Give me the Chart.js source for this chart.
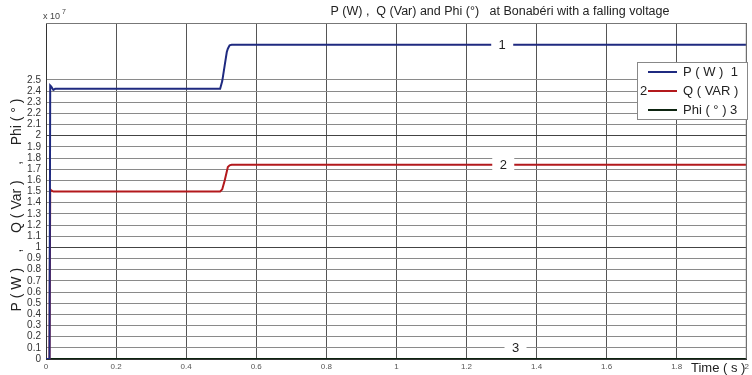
<!DOCTYPE html>
<html>
<head>
<meta charset="utf-8">
<script src="https://cdn.jsdelivr.net/npm/chart.js@4"></script>
<style>
  html, body { margin: 0; padding: 0; background: #fff; }
  #wrap { width: 752px; height: 375px; }
</style>
</head>
<body>
<div id="wrap"><canvas id="chart" width="752" height="375"></canvas></div>
<script>
// values in units of 10^7 (as on the axis)
const timeS = [0, 0.010, 0.012, 0.015, 0.021, 0.026, 0.497, 0.503, 0.510, 0.516, 0.519, 0.524, 0.530, 1.0, 1.5, 2.0];
const pValues = [0, 0, 2.45, 2.44, 2.41, 2.42, 2.42, 2.49, 2.63, 2.75, 2.78, 2.81, 2.815, 2.815, 2.815, 2.815];
const qValues = [0, 0, 1.52, 1.51, 1.50, 1.50, 1.50, 1.52, 1.60, 1.68, 1.72, 1.735, 1.74, 1.74, 1.74, 1.74];
const phiValues = [0, 0, 0, 0, 0, 0, 0, 0, 0, 0, 0, 0, 0, 0, 0, 0];

const seriesNames = ['P ( W )  1', 'Q ( VAR )', 'Phi ( ° ) 3'];
const seriesColors = ['#1f2a80', '#b3191c', '#0d2410'];
// curve markers: [label, time, value]
const curveMarks = [['1', 1.302, 2.815], ['2', 1.305, 1.74], ['3', 1.34, 0.1]];

const yTickMax = 2.5;
const fontFamily = '"Liberation Sans", Arial, sans-serif';

const toPoints = vals => timeS.map((t, i) => ({ x: t, y: vals[i] }));

const decorPlugin = {
    id: 'decor',
    afterDatasetsDraw(chart) {
        const { ctx, chartArea: a, scales } = chart;
        ctx.save();
        // frame top / right
        ctx.strokeStyle = '#777';
        ctx.lineWidth = 1;
        ctx.beginPath();
        ctx.moveTo(a.left, a.top + 0.5);
        ctx.lineTo(a.right - 0.5, a.top + 0.5);
        ctx.lineTo(a.right - 0.5, a.bottom);
        ctx.stroke();

        // curve number markers
        ctx.font = '13px ' + fontFamily;
        ctx.textAlign = 'center';
        ctx.textBaseline = 'middle';
        curveMarks.forEach(([lbl, t, v]) => {
            const x = scales.x.getPixelForValue(t);
            const y = scales.y.getPixelForValue(v);
            ctx.fillStyle = '#fff';
            ctx.fillRect(x - 11, y - 10, 22, 20);
            ctx.fillStyle = '#222';
            ctx.fillText(lbl, x, y + 1);
        });

        // legend box
        const lx = 637, ly = 62, lw = 110, lh = 57;
        ctx.fillStyle = '#fff';
        ctx.fillRect(lx, ly, lw, lh);
        ctx.strokeStyle = '#888';
        ctx.strokeRect(lx + 0.5, ly + 0.5, lw, lh);
        ctx.font = '13px ' + fontFamily;
        ctx.textAlign = 'left';
        seriesNames.forEach((name, i) => {
            const yy = ly + 10 + i * 19;
            ctx.strokeStyle = seriesColors[i];
            ctx.lineWidth = 2;
            ctx.beginPath();
            ctx.moveTo(648, yy);
            ctx.lineTo(677, yy);
            ctx.stroke();
            ctx.fillStyle = '#222';
            ctx.fillText(name, 683, yy);
        });
        ctx.fillText('2', 640, ly + 10 + 19);
        ctx.restore();
    },
    afterDraw(chart) {
        const { ctx } = chart;
        ctx.save();
        ctx.fillStyle = '#222';
        // title
        ctx.font = '12.5px ' + fontFamily;
        ctx.textAlign = 'center';
        ctx.textBaseline = 'middle';
        ctx.fillText('P (W) ,  Q (Var) and Phi (°)   at Bonabéri with a falling voltage', 500, 12);
        // exponent
        ctx.textAlign = 'left';
        ctx.font = '9px ' + fontFamily;
        ctx.fillStyle = '#444';
        ctx.fillText('x 10', 43, 17);
        ctx.font = '7px ' + fontFamily;
        ctx.fillText('7', 62, 12);
        // x title
        ctx.font = '13px ' + fontFamily;
        ctx.fillStyle = '#222';
        ctx.fillText('Time ( s )', 691, 368);
        // y title
        ctx.translate(17, 205);
        ctx.rotate(-Math.PI / 2);
        ctx.textAlign = 'center';
        ctx.font = '14px ' + fontFamily;
        ctx.fillText('P ( W )    ,    Q ( Var )    ,    Phi ( ° )', 0, 0);
        ctx.restore();
    }
};

const ctx = document.getElementById('chart').getContext('2d');
new Chart(ctx, {
    type: 'line',
    data: {
        datasets: [pValues, qValues, phiValues].map((vals, i) => ({
            label: seriesNames[i],
            data: toPoints(vals),
            borderColor: seriesColors[i],
            borderWidth: 2,
            pointRadius: 0,
            tension: 0,
            fill: false
        }))
    },
    options: {
        responsive: false,
        animation: false,
        layout: { padding: { top: 23, right: 4, left: 0, bottom: 0 } },
        plugins: {
            legend: { display: false },
            tooltip: { enabled: false }
        },
        scales: {
            x: {
                type: 'linear',
                min: 0,
                max: 2,
                afterFit: s => { s.height = 16; },
                ticks: {
                    stepSize: 0.2,
                    padding: 3,
                    autoSkip: false,
                    color: '#555',
                    font: { size: 8, family: fontFamily },
                    maxRotation: 0,
                    callback: v => String(Math.round(v * 10) / 10)
                },
                grid: { color: '#555', lineWidth: 1, drawTicks: false },
                border: { color: '#333', width: 1 }
            },
            y: {
                type: 'linear',
                min: 0,
                max: 3.01,
                afterFit: s => { s.width = 46; },
                afterBuildTicks: s => {
                    const out = [];
                    for (let i = 0; i <= Math.round(yTickMax * 10); i++) out.push({ value: i / 10 });
                    s.ticks = out;
                },
                ticks: {
                    padding: 5,
                    autoSkip: false,
                    color: '#333',
                    font: { size: 10, family: fontFamily },
                    callback: v => String(Math.round(v * 10) / 10)
                },
                grid: {
                    color: c => (Math.abs(c.tick.value - Math.round(c.tick.value)) < 1e-6 ? '#444' : '#8a8a8a'),
                    lineWidth: 1,
                    drawTicks: false
                },
                border: { color: '#333', width: 1 }
            }
        }
    },
    plugins: [decorPlugin]
});
</script>
</body>
</html>
